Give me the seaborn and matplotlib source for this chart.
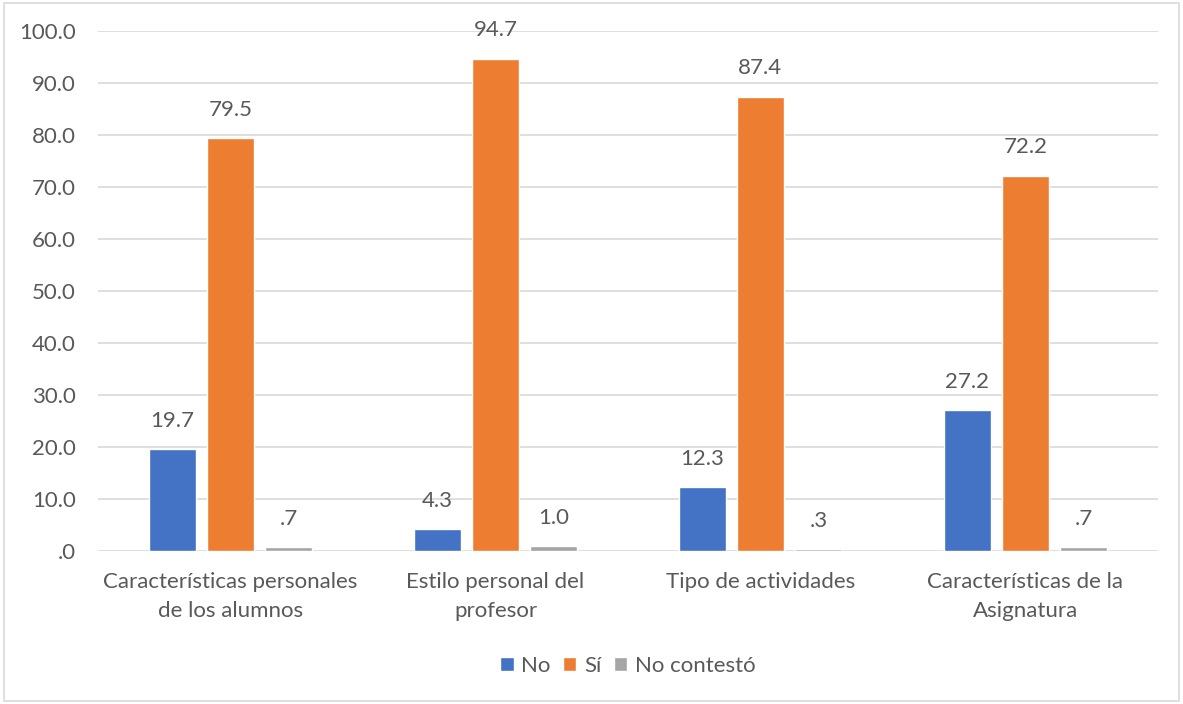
import matplotlib
matplotlib.use("Agg")
import matplotlib.pyplot as plt
import seaborn as sns
import pandas as pd
from matplotlib.patches import Rectangle
from matplotlib.ticker import FuncFormatter, MultipleLocator

categories = ["Características personales\nde los alumnos", "Estilo personal del\nprofesor",
              "Tipo de actividades", "Características de la\nAsignatura"]
series = ["No", "Sí", "No contestó"]
no_vals = [19.7, 4.3, 12.3, 27.2]
si_vals = [79.5, 94.7, 87.4, 72.2]
nc_vals = [0.7, 1.0, 0.3, 0.7]
colors = ["#4472C4", "#ED7D31", "#A5A5A5"]

rows = []
for s, vals in zip(series, [no_vals, si_vals, nc_vals]):
    for c, v in zip(categories, vals):
        rows.append({"cat": c, "serie": s, "val": v})
df = pd.DataFrame(rows)

sns.set_theme(style="white")
plt.rcParams["font.family"] = ["Lato", "DejaVu Sans"]
txt = "#595959"
fs = 16

def fmt(v):
    s = f"{v:.1f}"
    if s.startswith("0"):
        s = s[1:]
    return s

fig = plt.figure(figsize=(11.83, 7.04), dpi=100)
ax = fig.add_axes([0.0828, 0.2173, 0.896, 0.7387])
sns.barplot(data=df, x="cat", y="val", hue="serie", hue_order=series, order=categories,
            palette=colors, width=0.657, gap=0.2, ax=ax, saturation=1, legend=True)

ax.set_ylim(0, 100)
ax.yaxis.set_major_locator(MultipleLocator(10))
ax.yaxis.set_major_formatter(FuncFormatter(lambda v, p: fmt(v)))
ax.grid(axis="y", color="#d9d9d9", linewidth=1.2)
ax.set_axisbelow(True)
for sp in ax.spines.values():
    sp.set_visible(False)
ax.set_xlabel("")
ax.set_ylabel("")
ax.tick_params(axis="y", length=0, labelsize=fs, labelcolor=txt, pad=16)
ax.tick_params(axis="x", length=0, labelsize=fs, labelcolor=txt, pad=15)
for lab in ax.get_xticklabels():
    lab.set_linespacing(1.6)
ax.set_xlim(-0.5, 3.5)

for cont in ax.containers:
    ax.bar_label(cont, labels=[fmt(b.get_height()) for b in cont], padding=13,
                 fontsize=fs, color=txt)

leg = ax.legend(loc="upper center", bbox_to_anchor=(0.5, -0.163), ncol=3, frameon=False,
                fontsize=fs, handlelength=0.6, handleheight=0.6, handletextpad=0.35,
                columnspacing=0.55)
for t in leg.get_texts():
    t.set_color(txt)

fig.patches.append(Rectangle((0.003, 0.004), 0.994, 0.992, transform=fig.transFigure,
                             fill=False, edgecolor="#d9d9d9", linewidth=1.2))
fig.savefig("out.png", dpi=100, facecolor="white")
